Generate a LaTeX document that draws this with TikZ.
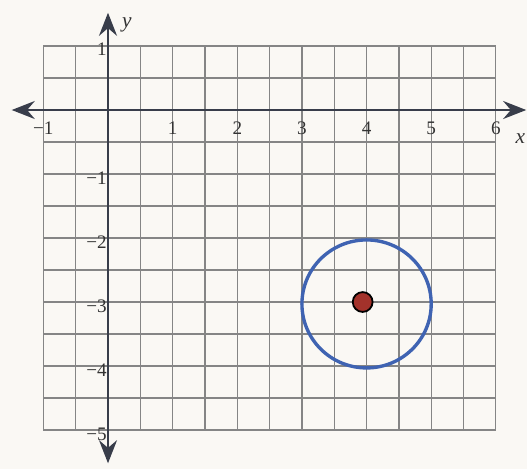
\documentclass[tikz,border=0pt]{standalone}
\usepackage{fontspec}
\setmainfont{Liberation Serif}
\usepackage{xcolor}
\definecolor{PaperWhite}{HTML}{FAF8F4}
\definecolor{GridGray}{HTML}{858585}
\definecolor{AxisInk}{HTML}{383D4A}
\definecolor{CircleBlue}{HTML}{3F63B2}
\definecolor{DotRed}{HTML}{A3322B}
\usepackage{tikz}
\usetikzlibrary{arrows.meta}

\begin{document}
\begin{tikzpicture}[x=1.01cm, y=1cm,
    gridline/.style={GridGray, line width=0.55pt},
    axisline/.style={AxisInk, line width=1.3pt, -{Stealth[length=3.6mm, width=2.8mm, inset=1.2mm]}},
    ticklabel/.style={font=\fontsize{8.5}{10}\selectfont, text=black!80, inner sep=1pt},
    axislabel/.style={font=\fontsize{9.5}{11}\selectfont\itshape, text=black!80},
    dotmark/.style={circle, draw=black, line width=0.8pt, fill=DotRed, minimum size=0.31cm, inner sep=0pt}]
  \fill[PaperWhite] (-1.671,-5.609) rectangle (6.482,1.719);
  \useasboundingbox (-1.671,-5.609) rectangle (6.482,1.719);
  % grid paper
  \draw[gridline, step=0.5] (-1,-5) grid (6,1);
  % axes
  \coordinate (xl) at (-1.49,0);
  \coordinate (xr) at (6.47,0);
  \coordinate (yt) at (0,1.52);
  \coordinate (yb) at (0,-5.52);
  \draw[axisline] (0,0) -- (xl);
  \draw[axisline] (0,0) -- (xr);
  \draw[axisline] (0,0) -- (yt);
  \draw[axisline] (0,0) -- (yb);
  \node[axislabel] (ylab) at (0.29,1.33) {y};
  \node[axislabel] (xlab) at (6.38,-0.44) {x};
  % tick labels
  \node[ticklabel] (xm1) at (-1,-0.28) {−1};
  \foreach \k in {1,...,6}
    \node[ticklabel] (x\k) at (\k,-0.28) {\k};
  \node[ticklabel, anchor=east] (y1) at (0.02,0.95) {1};
  \foreach \k in {1,...,5}
    \node[ticklabel, anchor=east] (ym\k) at (0.02,-\k-0.06) {−\k};
  % circle and centre
  \draw[CircleBlue, line width=1.5pt] (4,-3.03) circle (1);
  \node[dotmark] (ctr) at (3.94,-3) {};
\end{tikzpicture}
\end{document}
